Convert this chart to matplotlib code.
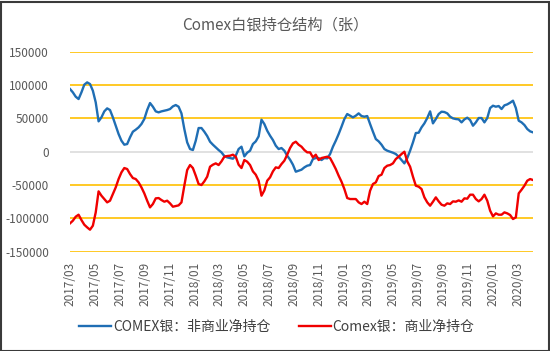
import matplotlib
matplotlib.use("Agg")
import matplotlib.pyplot as plt
import matplotlib.dates as mdates
import pandas as pd
from matplotlib.patches import Rectangle

plt.rcParams['font.family'] = ['Noto Sans CJK SC', 'DejaVu Sans']

title = "Comex白银持仓结构（张）"
series_names = ["COMEX银：非商业净持仓", "Comex银：商业净持仓"]
start_date = "2017-03-07"   # weekly COT report dates
tick_labels = ["2017/03", "2017/05", "2017/07", "2017/09", "2017/11", "2018/01",
               "2018/03", "2018/05", "2018/07", "2018/09", "2018/11", "2019/01",
               "2019/03", "2019/05", "2019/07", "2019/09", "2019/11", "2020/01",
               "2020/03"]
y_ticks = [150000, 100000, 50000, 0, -50000, -100000, -150000]

noncommercial = [
    94000, 89000, 82500, 79000, 89000, 100500, 104000, 101500, 91500, 74000,
    45500, 51500, 60500, 65000, 62500, 51500, 39000, 26500, 16500, 10500,
    11500, 21500, 30000, 33000, 36500, 41500, 49000, 62500, 73000, 67500,
    60500, 59000, 60500, 61500, 62500, 64000, 68000, 70000, 67500, 57500,
    34000, 14000, 4000, 2500, 16500, 35500, 35500, 30000, 23500,
    15000, 10500, 6500, 2500, -1000, -6500, -8500, -9500, -10500, -6000,
    4000, 7500, -7000, -1500, 1500, 11500, 15500, 23000,
    48000, 41500,
    31500, 24000, 17500, 9000, 4000, 5500, 1500, -6000, -12000, -19500,
    -30000, -28500, -27000, -23500, -21000, -20000, -11000, -9500, -9500,
    -12500, -9500, -10000, -3500, 7500, 16500, 26500, 37500, 49000, 56500,
    54000, 51500, 54000, 57500, 53500, 52500, 53500, 41500, 30000,
    19000, 15500, 10500, 4000, 1500, 0, -1500, -3500, -7500, -12500,
    -17500, -9500, 1500, 14000, 28000, 28500, 36500, 42500, 50500,
    60500,
    42500, 49000, 56500, 60000, 59500, 57500, 52500, 50000, 49000, 48500,
    44000, 48500, 51000, 47500, 39000, 44000, 50500, 50500, 44000,
    50500, 65500, 69000, 67500, 68500, 64000, 69500, 71000, 73500, 76500,
    65500, 46500, 44000, 40000, 34000, 30500, 29000,
]

commercial = [
    -107500, -103500, -97500, -94500, -102500, -109500, -113500, -117000, -111000, -91000,
    -59500, -66000, -71000, -76000, -73500, -63500, -53500, -41000, -31000, -24500,
    -26000, -33500, -39500, -41000, -46000, -53500, -62500, -73500, -83500, -78500,
    -70000, -69500, -72500, -75000, -73500, -77500, -82500, -81500, -80500, -76000,
    -51000, -27500, -20000, -24500, -36000, -48500, -50000, -44500, -37500,
    -22500, -19500, -17500, -20000, -14500, -7500, -6500, -6000, -4500, -7500,
    -19500, -24500, -12500, -15000, -20000, -29500, -34500, -43500,
    -66000, -58000,
    -43500, -38500, -29500, -23500, -24500, -18500, -13500, -4500, 5500, 12500,
    15000, 10500, 7500, 2500, -1000, -1000, -8500, -4500, -12500,
    -9500, -8500, -7500, -9500, -17500, -26000, -36000, -45000, -56000, -69500,
    -71000, -71000, -71000, -76000, -78500, -75000, -78500, -58500, -48500,
    -46000, -36500, -34500, -24500, -21000, -20000, -17500, -11000, -7500, -3500,
    0, -14500, -22500, -37500, -51000, -52500, -56000, -68500, -76000,
    -81000,
    -75000, -68500, -74500, -79500, -81000, -77500, -78500, -74500, -75000, -73000,
    -75000, -70000, -70500, -64500, -64500, -71000, -74500, -71000, -64500,
    -73500, -88500, -97000, -92500, -94500, -94500, -91000, -92500, -95000, -101000,
    -98500, -62500, -57000, -51000, -43500, -41000, -42500,
]

dates = pd.date_range(start_date, periods=len(noncommercial), freq="7D")
tick_dates = pd.date_range(start_date, periods=len(tick_labels), freq=pd.DateOffset(months=2))

W, H = 550, 351
fig = plt.figure(figsize=(W / 100, H / 100), dpi=100)
ax = fig.add_axes([70 / W, 1 - 251.7 / H, 463 / W, 200 / H])

grid_color = "#FFC000"
for v in y_ticks:
    if v == 0:
        ax.axhline(v, color="#D9D9D9", lw=1.1, zorder=1)
    else:
        ax.axhline(v, color=grid_color, lw=1.2, zorder=1)

ax.plot(dates, noncommercial, color="#1F6EB4", lw=1.7, label=series_names[0], zorder=3)
ax.plot(dates, commercial, color="#F00000", lw=1.7, label=series_names[1], zorder=3)

ax.set_xlim(dates[0], dates[-1])
ax.set_ylim(-150000, 150000)
ax.set_yticks(y_ticks)
ax.set_yticklabels([str(v) for v in y_ticks])
ax.set_xticks(tick_dates)
ax.set_xticklabels(tick_labels, rotation=90)
ax.tick_params(axis="y", length=0, pad=15, labelsize=8.5, labelcolor="#595959")
ax.tick_params(axis="x", length=0, pad=7, labelsize=8.5, labelcolor="#595959")
for s in ax.spines.values():
    s.set_visible(False)

fig.text(0.5, 1 - 25.5 / H, title, ha="center", va="center", fontsize=11, color="#595959")

leg = fig.legend(loc="center", bbox_to_anchor=(277 / W, 1 - 327 / H), ncol=2, frameon=False,
                 fontsize=10, handlelength=2.3, handletextpad=0.15, columnspacing=2.0)
for t in leg.get_texts():
    t.set_color("#404040")

fig.patches.append(Rectangle((0.5 / W, 0.5 / H), 1 - 2 / W, 1 - 2 / H, transform=fig.transFigure,
                             fill=False, edgecolor="#3A3A3A", lw=1.5))

fig.savefig("out.png", dpi=100, facecolor="white")
